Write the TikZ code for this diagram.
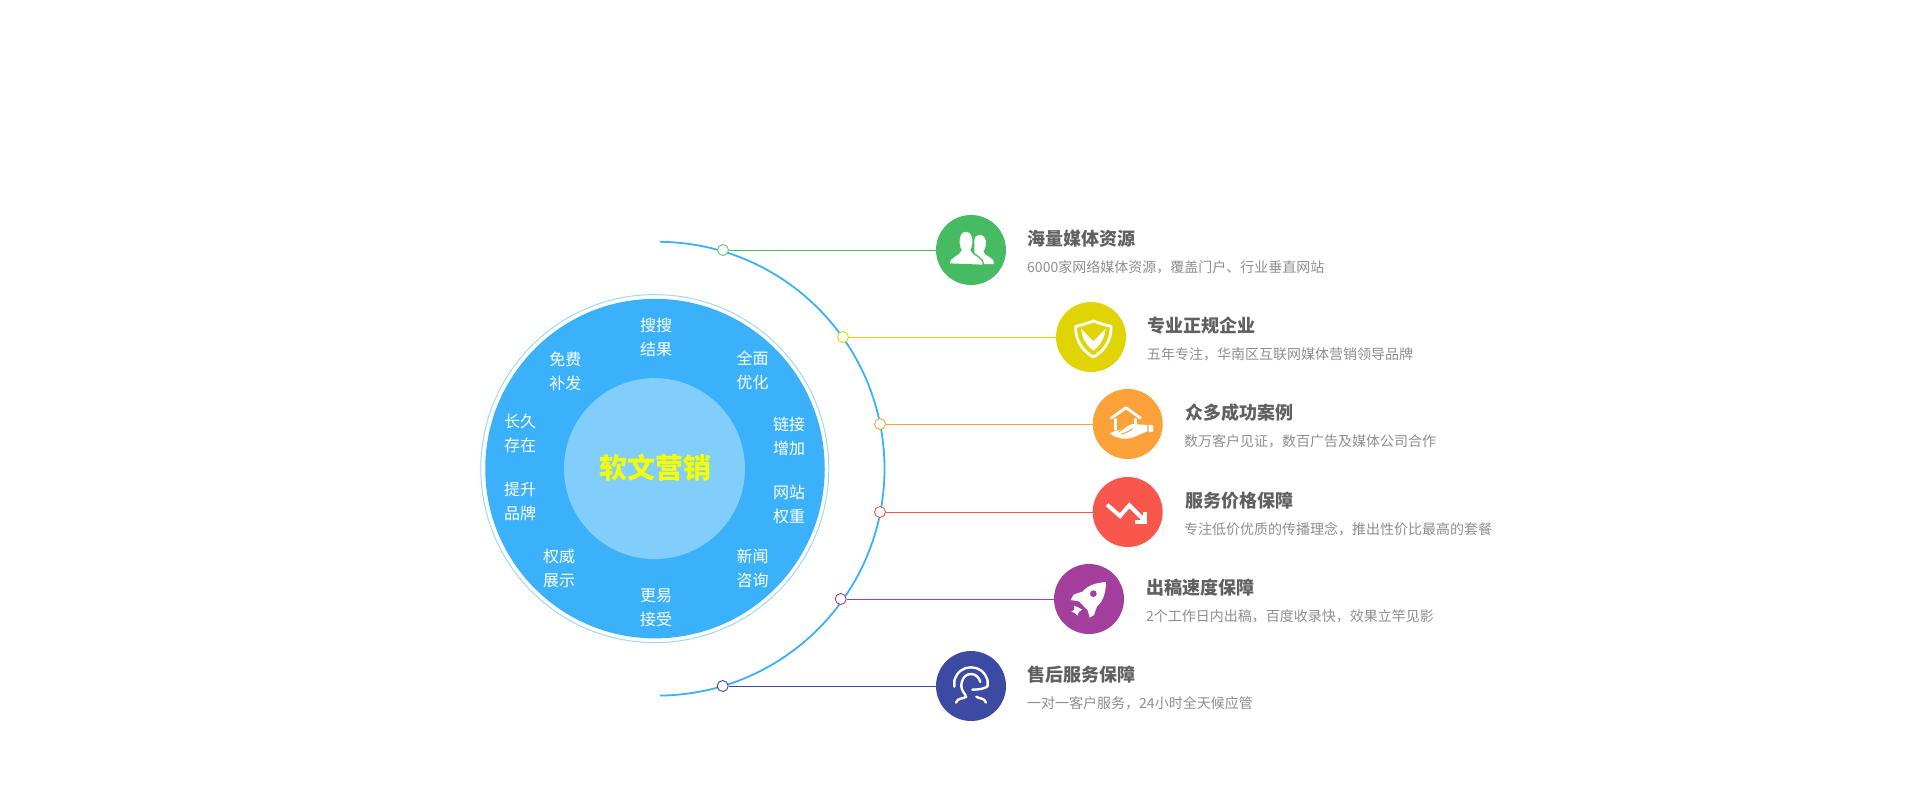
\documentclass[tikz,border=0pt]{standalone}
\usepackage{fontspec}
\setmainfont{Noto Sans CJK SC}
\definecolor{cblue}{HTML}{3AB1FA}
\definecolor{cinner}{HTML}{81CDFB}
\definecolor{cring}{HTML}{9ED8FC}
\definecolor{chub}{HTML}{F5FF00}
\definecolor{cgreen}{HTML}{46BB62}
\definecolor{cyellow}{HTML}{E0D404}
\definecolor{corange}{HTML}{FDA23A}
\definecolor{cred}{HTML}{FA574C}
\definecolor{cpurple}{HTML}{A43E9C}
\definecolor{cindigo}{HTML}{3C4AA3}
\definecolor{ctitle}{HTML}{606060}
\definecolor{csub}{HTML}{8E8E8E}
\tikzset{
  disc/.style={circle,inner sep=0pt,minimum size=#1},
  icondisc/.style={circle,inner sep=0pt,minimum size=70pt,fill=#1},
  dotmark/.style={circle,inner sep=0pt,minimum size=11pt,fill=white,draw=#1,line width=0.9pt},
  link/.style={draw=#1,line width=1pt},
  wheel/.style={text=white,align=center,inner sep=0pt,font=\fontsize{16pt}{24pt}\selectfont},
  hub/.style={text=chub,inner sep=0pt,font=\fontsize{28pt}{32pt}\selectfont\bfseries},
  headline/.style={text=ctitle,anchor=base west,inner sep=0pt,font=\fontsize{18pt}{22pt}\selectfont\bfseries},
  subline/.style={text=csub,anchor=base west,inner sep=0pt,font=\fontsize{14pt}{18pt}\selectfont},
  glyph/.style={x=0.33333pt,y=-0.33333pt,line cap=round,line join=round},
  wline/.style={draw=white,line width=#1,fill=none}
}
\begin{document}
\begin{tikzpicture}[x=1pt,y=-1pt]
\useasboundingbox (0,0) rectangle (1920,804);
% big arc
\coordinate (arcstart) at (660,241.8);
\draw[cblue,line width=1.8pt] (arcstart) arc[start angle=89.4,end angle=-89.4,radius=226.9pt];
% wheel
\node[disc=348pt,draw=cring,line width=1pt] (ring) at (654.8,468.6) {};
\node[disc=339.5pt,fill=cblue] (wheelbg) at (655,468.6) {};
\node[disc=181pt,fill=cinner] (centre) at (654.5,468.6) {};
\node[hub] (hubtext) at (655,467.7) {软文营销};
\node[wheel] (w1) at (656,337) {搜搜\\结果};
\node[wheel] (w2) at (752.7,370) {全面\\优化};
\node[wheel] (w3) at (789,436.8) {链接\\增加};
\node[wheel] (w4) at (789,504.6) {网站\\权重};
\node[wheel] (w5) at (752.7,568) {新闻\\咨询};
\node[wheel] (w6) at (656,608) {更易\\接受};
\node[wheel] (w7) at (559,568.2) {权威\\展示};
\node[wheel] (w8) at (520,501.3) {提升\\品牌};
\node[wheel] (w9) at (520,433) {长久\\存在};
\node[wheel] (w10) at (565.3,371) {免费\\补发};
% icon discs and dots
\node[icondisc=cgreen] (i1) at (971,250) {};
\node[icondisc=cyellow] (i2) at (1091,337) {};
\node[icondisc=corange] (i3) at (1127.7,424) {};
\node[icondisc=cred] (i4) at (1127.7,512) {};
\node[icondisc=cpurple] (i5) at (1089,599) {};
\node[icondisc=cindigo] (i6) at (971,686) {};
\node[dotmark=cgreen!85!white] (d1) at (723,250) {};
\node[dotmark=cyellow] (d2) at (843,337) {};
\node[dotmark=corange] (d3) at (880,424) {};
\node[dotmark=cred] (d4) at (880,512) {};
\node[dotmark=cpurple] (d5) at (840.7,599) {};
\node[dotmark=cindigo] (d6) at (722.7,686) {};
\draw[link=cgreen] (d1) -- (i1);
\draw[link=cyellow] (d2) -- (i2);
\draw[link=corange] (d3) -- (i3);
\draw[link=cred] (d4) -- (i4);
\draw[link=cpurple] (d5) -- (i5);
\draw[link=cindigo] (d6) -- (i6);
% texts
\node[headline] (t1) at (1027.5,245) {海量媒体资源};
\node[subline] (s1) at (1027,272) {6000家网络媒体资源，覆盖门户、行业垂直网站};
\node[headline] (t2) at (1147.5,332) {专业正规企业};
\node[subline] (s2) at (1147,359) {五年专注，华南区互联网媒体营销领导品牌};
\node[headline] (t3) at (1185,419) {众多成功案例};
\node[subline] (s3) at (1184,446) {数万客户见证，数百广告及媒体公司合作};
\node[headline] (t4) at (1185,507) {服务价格保障};
\node[subline] (s4) at (1184,534) {专注低价优质的传播理念，推出性价比最高的套餐};
\node[headline] (t5) at (1146,594) {出稿速度保障};
\node[subline] (s5) at (1146,621) {2个工作日内出稿，百度收录快，效果立竿见影};
\node[headline] (t6) at (1027.5,681) {售后服务保障};
\node[subline] (s6) at (1027,708) {一对一客户服务，24小时全天候应管};
% icon 1 people
\begin{scope}[shift={(941,220)},glyph]
  \fill[white] (100,110) -- (100,62) .. controls (100,38) and (132,38) .. (135,65) .. controls (136,78) and (131,88) .. (127,95) .. controls (132,112) and (159,108) .. (159,132) -- (90,132) -- cycle;
  \fill[white,draw=cgreen,line width=1.3pt] (24,132) .. controls (24,108) and (54,108) .. (60,90) .. controls (50,76) and (50,33) .. (75,33) .. controls (100,33) and (100,76) .. (90,90) .. controls (96,108) and (128,108) .. (127,136) -- cycle;
\end{scope}
% icon 2 shield
\begin{scope}[shift={(1061,307)},glyph]
  \draw[wline=2.8pt] (44,58) .. controls (72,52) and (85,46) .. (97,42) .. controls (109,46) and (122,52) .. (150,58) .. controls (152,105) and (124,135) .. (97,150) .. controls (70,135) and (42,105) .. (44,58) -- cycle;
  \fill[white] (60,65) -- (97,103) -- (134,65) -- (130,85) .. controls (122,108) and (110,122) .. (97,130) .. controls (84,122) and (72,108) .. (64,85) -- cycle;
\end{scope}
% icon 3 house in hand
\begin{scope}[shift={(1098,394)},glyph]
  \draw[wline=2.8pt] (40,72) -- (84,41) -- (127,72);
  \draw[wline=2.6pt] (52,76) -- (52,106);
  \draw[wline=2.6pt] (112,76) -- (112,92);
  \fill[white] (35,118) .. controls (48,112) and (60,108) .. (72,106) .. controls (85,102) and (90,92) .. (105,90) -- (148,93) -- (148,112) .. controls (125,120) and (110,132) .. (85,134) .. controls (65,135) and (48,128) .. (35,118) -- cycle;
  \fill[white] (152,92) -- (165,94) -- (165,113) -- (152,115) -- cycle;
  \draw[corange,line width=1pt] (62,114) -- (80,100) (70,120) .. controls (85,116) and (92,112) .. (104,104);
\end{scope}
% icon 4 trend down
\begin{scope}[shift={(1098,482)},glyph]
  \draw[wline=4pt,line cap=butt,line join=miter] (27,68) -- (66,102) -- (94,70) -- (138,114);
  \draw[wline=4pt,line cap=butt,line join=miter] (141,90) -- (141,119) -- (112,119);
\end{scope}
% icon 5 rocket
\begin{scope}[shift={(1059,569)},glyph]
  \fill[white] (141,39) .. controls (110,42) and (88,48) .. (70,68) -- (45,76) -- (35,93) -- (60,97) -- (86,124) -- (92,146) -- (105,138) -- (114,112) .. controls (134,95) and (140,70) .. (141,39) -- cycle;
  \fill[cpurple] (103,74) circle[radius=10];
  \fill[white] (45,110) -- (55,114) -- (70,122) -- (60,128) -- (55,140) -- (48,132) -- (37,128) -- (46,122) -- cycle;
\end{scope}
% icon 6 headset
\begin{scope}[shift={(941,656)},glyph]
  \draw[wline=2.4pt] (40,92) -- (40,74) .. controls (48,46) and (68,34) .. (90,34) .. controls (112,34) and (132,46) .. (140,74) -- (140,90);
  \draw[wline=2.4pt] (74,118) .. controls (64,106) and (58,92) .. (62,80) .. controls (66,62) and (76,54) .. (90,54) .. controls (104,54) and (114,64) .. (118,78);
  \draw[wline=2.4pt] (140,90) .. controls (134,98) and (112,101) .. (94,101);
  \draw[wline=2.4pt] (45,140) .. controls (50,124) and (66,130) .. (76,122);
  \draw[wline=2.4pt] (106,122) .. controls (116,130) and (130,124) .. (135,140);
\end{scope}
\end{tikzpicture}
\end{document}
